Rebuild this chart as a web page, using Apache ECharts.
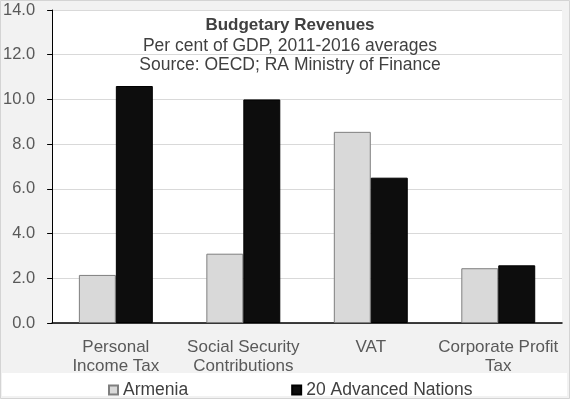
<!DOCTYPE html>
<html><head><meta charset="utf-8">
<script src="https://cdn.jsdelivr.net/npm/echarts@6/dist/echarts.min.js"></script>
<style>html,body{margin:0;padding:0;}#c{width:570px;height:399px;}</style>
</head><body><div id="c"></div>
<script>
const categories = ['Personal\nIncome Tax', 'Social Security\nContributions', 'VAT', 'Corporate Profit\nTax'];
const armenia = [2.15, 3.1, 8.55, 2.45];
const advanced = [10.6, 10.0, 6.5, 2.58];
const seriesNames = ['Armenia', '20 Advanced Nations'];
const titleLines = ['Budgetary Revenues', 'Per cent of GDP, 2011-2016 averages', 'Source: OECD; RA Ministry of Finance'];

const chart = echarts.init(document.getElementById('c'), null, {renderer: 'canvas'});
const font = 'Arial, "Liberation Sans", sans-serif';
chart.setOption({
  animation: false,
  backgroundColor: '#f2f2f2',
  graphic: [
    {type: 'rect', z: -10, shape: {x: 2, y: 373, width: 565, height: 23}, style: {fill: '#ffffff'}},
    {type: 'rect', z: 100, silent: true, shape: {x: 0.5, y: 0.5, width: 569, height: 398}, style: {fill: 'none', stroke: '#d4d4d4', lineWidth: 1}}
  ],
  title: {
    text: titleLines[0],
    subtext: titleLines[1] + '\n' + titleLines[2],
    left: 285, top: 10, textAlign: 'center', itemGap: 1,
    textStyle: {fontFamily: font, fontSize: 17, fontWeight: 'bold', color: '#404040', lineHeight: 20},
    subtextStyle: {fontFamily: font, fontSize: 17.5, color: '#404040', lineHeight: 19.5}
  },
  legend: {
    data: seriesNames,
    top: 376, left: 103,
    itemWidth: 9, itemHeight: 9, itemGap: 103,
    icon: 'rect',
    textStyle: {fontFamily: font, fontSize: 17.5, color: '#404040'}
  },
  grid: {left: 52, right: 8, top: 10, bottom: 76, show: true, backgroundColor: '#ffffff', borderWidth: 0, containLabel: false},
  xAxis: {
    type: 'category', data: categories,
    axisLine: {lineStyle: {color: '#000', width: 1.5}},
    axisTick: {show: false},
    axisLabel: {fontFamily: font, fontSize: 17, color: '#595959', lineHeight: 19, margin: 15, interval: 0}
  },
  yAxis: {
    type: 'value', min: 0, max: 14, interval: 2,
    axisLine: {show: true, lineStyle: {color: '#000', width: 1}},
    axisTick: {show: true, length: 5, lineStyle: {color: '#000'}},
    splitLine: {lineStyle: {color: '#d9d9d9', width: 1}},
    axisLabel: {fontFamily: font, fontSize: 16.5, color: '#595959', margin: 17, formatter: v => v.toFixed(1)}
  },
  series: [
    {name: seriesNames[0], type: 'bar', data: armenia, barGap: '0%', barCategoryGap: '42%',
     itemStyle: {color: '#d9d9d9', borderColor: '#7f7f7f', borderWidth: 1}},
    {name: seriesNames[1], type: 'bar', data: advanced,
     itemStyle: {color: '#0d0d0d', borderColor: '#000', borderWidth: 1}}
  ]
});
</script></body></html>
